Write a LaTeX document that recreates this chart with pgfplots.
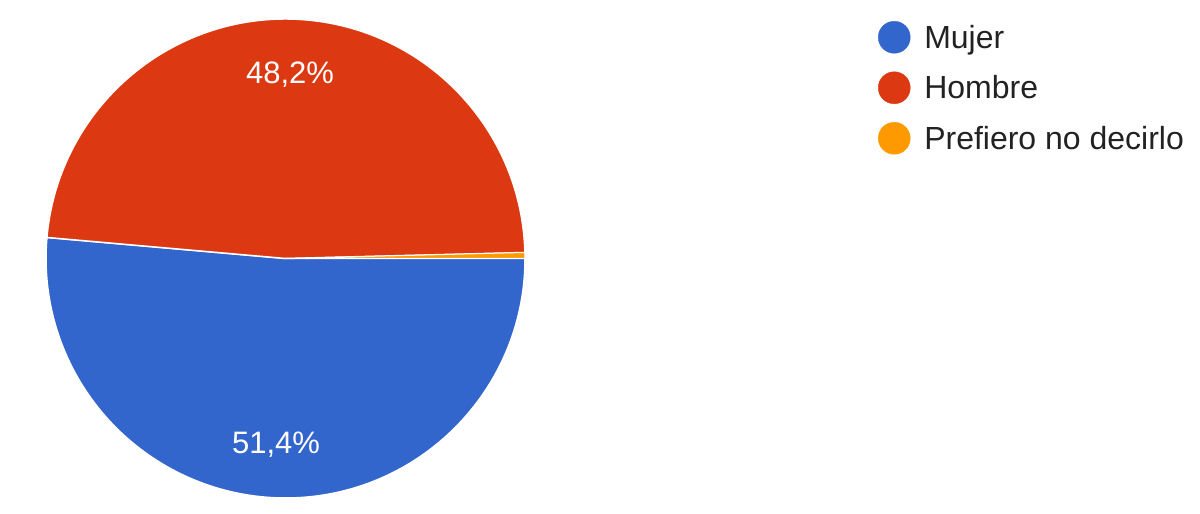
\documentclass[border=0pt]{standalone}
\usepackage{pgfplots}
\pgfplotsset{compat=1.18}
\usepackage{pgfplotstable}
\usepackage{fontspec}
\setmainfont{Liberation Sans}

\definecolor{mujer}{HTML}{3366CC}
\definecolor{hombre}{HTML}{DC3912}
\definecolor{nodecir}{HTML}{FF9900}
\definecolor{legtext}{HTML}{222222}

% share of answers, in percent
\pgfplotstableread{
label value
Mujer 51.4
Hombre 48.2
Prefiero 0.4
}\pietable

\begin{document}
\begin{tikzpicture}
\pgfplotstablegetelem{0}{value}\of\pietable \pgfmathsetmacro\va{\pgfplotsretval*3.6}
\pgfplotstablegetelem{1}{value}\of\pietable \pgfmathsetmacro\vb{\pgfplotsretval*3.6}
\pgfmathsetmacro\ea{-\va}
\pgfmathsetmacro\eb{-\va-\vb}
\begin{axis}[
    width=1200pt, height=514pt,
    scale only axis,
    hide axis,
    clip=false,
    xmin=0, xmax=1200,
    ymin=0, ymax=514,
    legend style={
        at={(axis description cs:0.7317,0.959)},
        anchor=north west,
        draw=none, fill=none,
        font=\fontsize{32}{38}\selectfont\color{legtext},
        row sep=18.5pt,
        column sep=12pt,
        inner sep=0pt,
        nodes={inner sep=2pt},
    },
    legend cell align=left,
]
    % slices, clockwise from three o'clock
    \fill[mujer, draw=white, line width=1.5pt] (axis cs:285.5,255.5) -- ++(0:239.5pt)
        arc[start angle=0, end angle=\ea, radius=239.5pt] -- cycle;
    \fill[hombre, draw=white, line width=1.5pt] (axis cs:285.5,255.5) -- ++(\ea:239.5pt)
        arc[start angle=\ea, end angle=\eb, radius=239.5pt] -- cycle;
    \fill[nodecir, draw=white, line width=1pt] (axis cs:285.5,255.5) -- ++(\eb:239.5pt)
        arc[start angle=\eb, end angle=-360, radius=239.5pt] -- cycle;

    \node[white, font=\fontsize{31}{36}\selectfont] at (axis cs:290,439) {48,2\%};
    \node[white, font=\fontsize{31}{36}\selectfont] at (axis cs:276,69) {51,4\%};

    \addlegendimage{only marks, mark=*, mark size=16pt, color=mujer}
    \addlegendentry{Mujer}
    \addlegendimage{only marks, mark=*, mark size=16pt, color=hombre}
    \addlegendentry{Hombre}
    \addlegendimage{only marks, mark=*, mark size=16pt, color=nodecir}
    \addlegendentry{Prefiero no decirlo}
\end{axis}
\path (0,0) rectangle (1200pt,514pt);
\end{tikzpicture}
\end{document}
